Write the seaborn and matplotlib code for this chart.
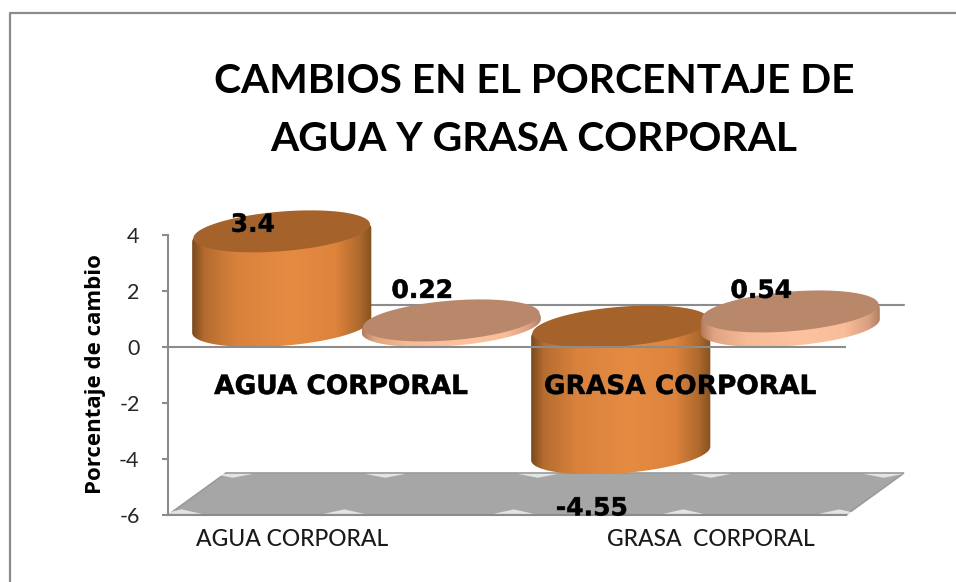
import numpy as np
import pandas as pd
import matplotlib
matplotlib.use("Agg")
import matplotlib.pyplot as plt
from matplotlib.colors import LinearSegmentedColormap
from matplotlib.lines import Line2D
from matplotlib.patches import Polygon
from matplotlib import patheffects
import seaborn as sns

categories = ["AGUA CORPORAL", "GRASA CORPORAL"]
tick_labels = ["AGUA CORPORAL", "GRASA  CORPORAL"]
series_names = ["Serie 1", "Serie 2"]
serie1_values = [3.4, -4.55]
serie2_values = [0.22, 0.54]
bar_labels = {3.4: "3.4", 0.22: "0.22", -4.55: "-4.55", 0.54: "0.54"}
label_offsets = {3.4: 27, 0.22: 50, -4.55: -34, 0.54: 41}
y_ticks = [4, 2, 0, -2, -4, -6]

W, H = 956, 582
GREY = "#8c8c8c"
DEPTH_X = 0.171
DEPTH_Y = 1.5
STOPS = [0, 0.07, 0.25, 0.55, 0.8, 0.93, 1]

body_colors = [
    ["#7a4a1e", "#b56c2f", "#d9823d", "#e68b42", "#dd833c", "#b06a2e", "#86511f"],
    ["#b07c60", "#e0a482", "#f5ba96", "#fdc3a0", "#f8bd99", "#dba081", "#ad7c60"],
]
face_colors = ["#a5622b", "#b9876a"]

sns.set_theme(style="white")
plt.rcParams["font.family"] = ["Lato", "DejaVu Sans"]
plt.rcParams["axes.unicode_minus"] = False

df = pd.DataFrame({
    "categoria": categories * 2,
    "serie": [series_names[0]] * 2 + [series_names[1]] * 2,
    "cambio": serie1_values + serie2_values,
})

fig = plt.figure(figsize=(W / 100, H / 100), dpi=100, facecolor="white")
ax = fig.add_axes([168 / W, 1 - 515 / H, (846 - 168) / W, (515 - 235) / H])
sns.barplot(data=df, x="categoria", y="cambio", hue="serie", order=categories,
            hue_order=series_names, width=1.0, gap=0, legend=False, ax=ax)
ax.set_xlim(-0.5, 1.5)
ax.set_ylim(-6, 4)
xlim = ax.get_xlim()
ylim = ax.get_ylim()

# piso y linea de la pared de atras
floor = [(xlim[0], ylim[0]), (xlim[1], ylim[0]),
         (xlim[1] + DEPTH_X, ylim[0] + DEPTH_Y), (xlim[0] + DEPTH_X, ylim[0] + DEPTH_Y)]
ax.add_patch(Polygon(floor, closed=True, facecolor="#a6a6a6", edgecolor="#9a9a9a",
                     lw=1.2, clip_on=False, zorder=1))
ax.plot([xlim[0] + DEPTH_X, xlim[1] + DEPTH_X], [DEPTH_Y, DEPTH_Y], color=GREY,
        lw=1.5, clip_on=False, zorder=1)
# manchas blancas del piso
for frac in [0.01, 0.235, 0.46, 0.715, 0.97]:
    xm = xlim[0] + DEPTH_X + frac * 2
    ax.fill([xm - 0.06, xm, xm + 0.06], [ylim[0] + DEPTH_Y - 0.03, ylim[0] + DEPTH_Y - 0.17,
                                         ylim[0] + DEPTH_Y - 0.03],
            color="white", alpha=0.7, lw=0, clip_on=False, zorder=1.1)
for frac in [0.02, 0.26, 0.51, 0.76, 0.99]:
    xm = xlim[0] + frac * 2
    ax.fill([xm - 0.06, xm, xm + 0.06], [ylim[0] + 0.04, ylim[0] + 0.2, ylim[0] + 0.04],
            color="white", alpha=0.7, lw=0, clip_on=False, zorder=1.1)


def ellipse_arc(xc, yc, half_w, t0, t1):
    t = np.linspace(t0, t1, 80)
    x = xc + DEPTH_X / 2 + half_w * np.cos(t) + DEPTH_X / 2 * np.sin(t)
    y = yc + DEPTH_Y / 2 + DEPTH_Y / 2 * np.sin(t)
    return np.column_stack([x, y])


def gradient_fill(points, cmap, x0, x1, y0, y1, z):
    im = ax.imshow(np.linspace(0, 1, 256).reshape(1, -1), cmap=cmap, aspect="auto",
                   extent=(x0, x1, y0, y1), zorder=z, interpolation="bilinear")
    im.set_clip_path(Polygon(points, closed=True, transform=ax.transData))
    im.set_clip_box(fig.bbox)


# cilindros armados desde las barras de seaborn
bars = [b for c in ax.containers for b in c]
bars = sorted(bars, key=lambda b: b.get_x())
for i, bar in enumerate(bars):
    bar.set_visible(False)
    serie = i % 2
    half_w = bar.get_width() / 2
    xc = bar.get_x() + half_w
    value = bar.get_y() + bar.get_height() if bar.get_y() == 0 else bar.get_y()
    top, bottom = max(value, 0), min(value, 0)
    t0 = np.arctan2(DEPTH_X / 2, half_w)
    z = 2 + i
    cmap = LinearSegmentedColormap.from_list("body%d" % i, list(zip(STOPS, body_colors[serie])))
    side = np.vstack([ellipse_arc(xc, top - 0.15, half_w, t0, t0 + np.pi),
                      ellipse_arc(xc, bottom, half_w, t0 + np.pi, t0 + 2 * np.pi)])
    gradient_fill(side, cmap, side[:, 0].min(), side[:, 0].max(),
                  side[:, 1].min(), side[:, 1].max(), z)
    face = ellipse_arc(xc, top - 0.02, half_w * 0.985, 0, 2 * np.pi)
    ax.add_patch(Polygon(face, closed=True, facecolor=face_colors[serie], edgecolor="none",
                         clip_on=False, zorder=z + 0.2))
    ax.annotate(bar_labels[value], xy=(xc, value), xytext=(0, label_offsets[value]),
                textcoords="offset pixels", ha="center", va="center", fontsize=18,
                fontweight="bold", family=["DejaVu Sans"], color="black",
                annotation_clip=False, zorder=20,
                path_effects=[patheffects.withStroke(linewidth=0.5, foreground="#444444")])

ax.set_xlim(xlim)
ax.set_ylim(ylim)
ax.axhline(0, color=GREY, lw=1.5, zorder=10)

# textos de categoria dentro del grafico
for name, xp in zip(categories, [341, 680]):
    fig.text(xp / W, 1 - 387 / H, name, ha="center", va="center", fontsize=19,
             fontweight="bold", family=["DejaVu Sans"], color="black",
             zorder=20, path_effects=[patheffects.withStroke(linewidth=0.5, foreground="#444444")])

for s in ["top", "right"]:
    ax.spines[s].set_visible(False)
for s in ["left", "bottom"]:
    ax.spines[s].set_color(GREY)
    ax.spines[s].set_linewidth(1.5)
ax.set_yticks(y_ticks)
ax.tick_params(axis="y", left=True, length=4.5, width=1.5, color=GREY, pad=16,
               labelsize=15.5, labelcolor="#262626")
ax.set_xticks([-0.134, 1.10])
ax.set_xticklabels(tick_labels, fontsize=16.5, fontweight="medium", color="#1a1a1a")
ax.tick_params(axis="x", length=0, pad=10)
ax.set_xlabel("")
ax.set_ylabel("")
fig.text(96 / W, 1 - 374 / H, "Porcentaje de cambio", rotation=90, ha="center", va="center",
         fontsize=16, fontweight="bold", family=["Open Sans", "DejaVu Sans"], color="black")

fig.text(534 / W, 1 - 110.5 / H, "CAMBIOS EN EL PORCENTAJE DE\nAGUA Y GRASA CORPORAL", ha="center",
         va="center", fontsize=29.3, fontweight="bold", color="black", linespacing=1.69)

# marco del grafico
fig.add_artist(Line2D([10 / W, 10 / W, 1], [0, 1 - 13 / H, 1 - 13 / H], color=GREY, lw=1.6))

fig.savefig("out.png", dpi=100)
